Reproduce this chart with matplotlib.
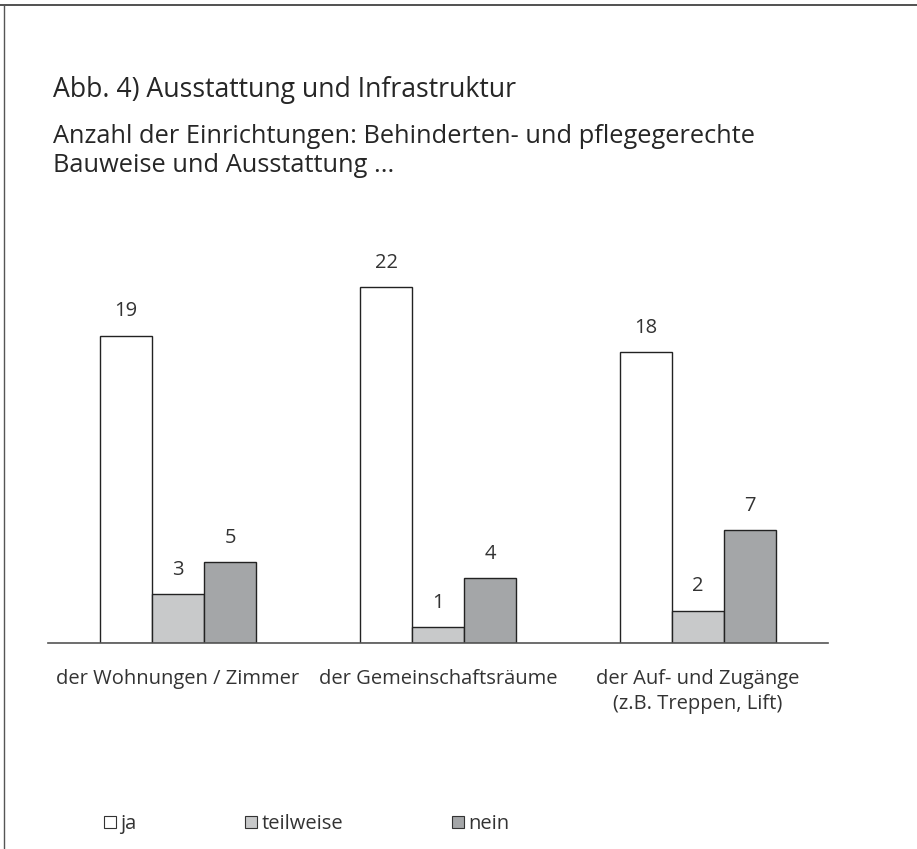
import matplotlib.pyplot as plt
from matplotlib.patches import Patch
from matplotlib.lines import Line2D
import numpy as np

plt.rcParams['font.family'] = ['Open Sans', 'DejaVu Sans']

categories = ['der Wohnungen / Zimmer', 'der Gemeinschaftsräume',
              'der Auf- und Zugänge\n(z.B. Treppen, Lift)']
series = ['ja', 'teilweise', 'nein']
ja = [19, 22, 18]
teilweise = [3, 1, 2]
nein = [5, 4, 7]
colors = ['#ffffff', '#c8c9ca', '#a4a6a8']

W, H = 917, 849
fig = plt.figure(figsize=(W / 100, H / 100), dpi=100)
ax = fig.add_axes([48 / W, (H - 643) / H, 780 / W, 420.4 / H])

x = np.arange(len(categories))
bw = 0.2
for i, (vals, c) in enumerate(zip([ja, teilweise, nein], colors)):
    bars = ax.bar(x + (i - 1) * bw, vals, bw, color=c, edgecolor='#222222',
                  linewidth=1.0, label=series[i], zorder=2)
    for b, v in zip(bars, vals):
        ax.annotate(str(v), (b.get_x() + b.get_width() / 2, v),
                    xytext=(0, 17.5), textcoords='offset points',
                    ha='center', va='center', fontsize=14.5, color='#333333')

ax.set_xlim(-0.5, 2.5)
ax.set_ylim(0, 26)
for s in ['top', 'right', 'left']:
    ax.spines[s].set_visible(False)
ax.spines['bottom'].set_color('#555555')
ax.spines['bottom'].set_linewidth(1.2)
ax.set_yticks([])
ax.set_xticks(x)
ax.set_xticklabels(categories, fontsize=14.5, color='#333333', linespacing=1.3)
ax.tick_params(axis='x', length=0, pad=19)

fig.text(53 / W, 1 - 90 / H, 'Abb. 4) Ausstattung und Infrastruktur',
         fontsize=19.2, color='#262626', va='center')
fig.text(53 / W, 1 - 151 / H,
         'Anzahl der Einrichtungen: Behinderten- und pflegegerechte\nBauweise und Ausstattung ...',
         fontsize=18.3, color='#262626', va='center', linespacing=1.16)

handles = [Patch(facecolor=c, edgecolor='#333333', linewidth=0.8) for c in colors]
fig.legend(handles, series, loc='center left', bbox_to_anchor=(86 / W, 1 - 824 / H),
           ncol=3, frameon=False, fontsize=14.5, handlelength=0.6, handleheight=0.6,
           handletextpad=0.2, columnspacing=5.4, labelcolor='#333333')

# frame lines along the top and left edge
fig.add_artist(Line2D([0, 1], [1 - 5 / H, 1 - 5 / H], color='#333333', linewidth=1.2))
fig.add_artist(Line2D([4 / W, 4 / W], [0, 1 - 5 / H], color='#555555', linewidth=1.0))

fig.savefig('out.png', dpi=100, facecolor='white')
